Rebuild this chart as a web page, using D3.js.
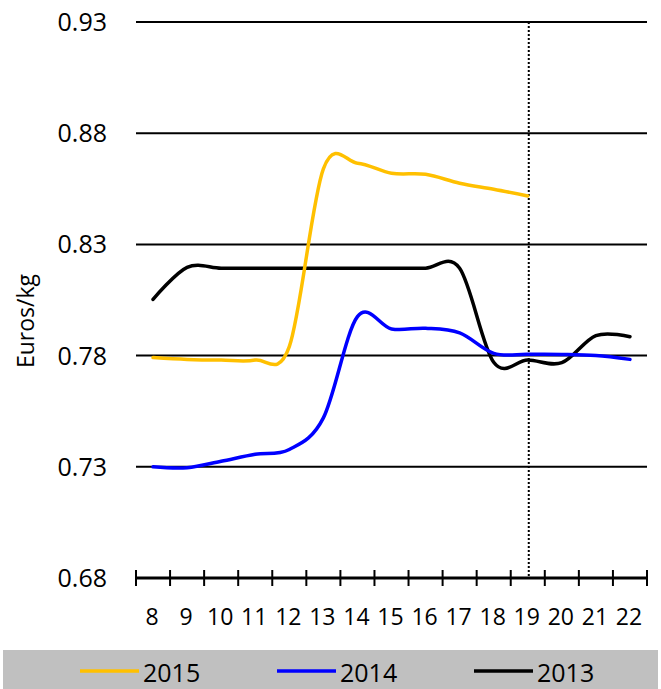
<!DOCTYPE html>
<html><head><meta charset="utf-8">
<script src="https://cdn.jsdelivr.net/npm/d3@7"></script>
<style>body{margin:0;background:#fff}svg{display:block}text{font-family:"Open Sans",sans-serif;fill:#000}</style>
</head><body><svg id="c" width="661" height="689"></svg>
<script>
const weeks = [8,9,10,11,12,13,14,15,16,17,18,19,20,21,22];
const yTicks = [0.68,0.73,0.78,0.83,0.88,0.93];
const s2015 = [0.7791,0.7783,0.778,0.778,0.784,0.864,0.8665,0.862,0.8615,0.8575,0.8548,0.8518,null,null,null];
const s2014 = [0.73,0.7296,0.7325,0.7356,0.7378,0.752,0.7975,0.792,0.7923,0.7902,0.781,0.7806,0.7805,0.780,0.7783];
const s2013 = [0.8053,0.8197,0.8193,0.8193,0.8193,0.8193,0.8193,0.8193,0.8193,0.8193,0.777,0.778,0.7768,0.789,0.7885];
const seriesNames = ["2015","2014","2013"];
const seriesColors = ["#FFC000","#0000FF","#000000"];
const markerWeek = 19;

const svg = d3.select("#c");
const x = d3.scaleBand().domain(weeks).range([136,647]).padding(0);
const y = d3.scaleLinear().domain([0.68,0.93]).range([578,22]);

// gridlines
svg.append("g").selectAll("line").data(yTicks.slice(1)).join("line")
  .attr("x1",136).attr("x2",647).attr("y1",d=>y(d)).attr("y2",d=>y(d))
  .attr("stroke","#000").attr("stroke-width",2);

// y labels
svg.append("g").selectAll("text").data(yTicks).join("text")
  .attr("x",107).attr("y",d=>y(d)).attr("dy","0.36em").attr("text-anchor","end")
  .attr("font-size",25).text(d=>d.toFixed(2));

// vertical dotted marker
svg.append("line").attr("x1",x(markerWeek)+x.bandwidth()/2+1).attr("x2",x(markerWeek)+x.bandwidth()/2+1)
  .attr("y1",y(0.93)).attr("y2",y(0.68)).attr("stroke","#000").attr("stroke-width",2).attr("stroke-dasharray","2,2");

// x axis
const xa = svg.append("g");
xa.append("line").attr("x1",136).attr("x2",647).attr("y1",y(0.68)).attr("y2",y(0.68)).attr("stroke","#000").attr("stroke-width",3);
const bounds = weeks.map(w=>x(w)).concat([647]);
xa.selectAll("line.t").data(bounds).join("line").attr("class","t")
  .attr("x1",d=>d).attr("x2",d=>d).attr("y1",570).attr("y2",586).attr("stroke","#000").attr("stroke-width",2);
xa.selectAll("text").data(weeks).join("text")
  .attr("x",d=>x(d)+x.bandwidth()/2-1).attr("y",625).attr("text-anchor","middle")
  .attr("font-size",23).text(d=>d);

// axis title
svg.append("text").attr("transform","translate(34,321) rotate(-90)")
  .attr("text-anchor","middle").attr("font-size",23).text("Euros/kg");

// lines
const line = d3.line().defined(d=>d.v!=null)
  .x(d=>x(d.w)+x.bandwidth()/2).y(d=>y(d.v)).curve(d3.curveCardinal.tension(0));
[s2013,s2014,s2015].forEach((s,i)=>{
  const idx = 2-i;
  svg.append("path").datum(weeks.map((w,j)=>({w:w,v:s[j]})).filter(d=>d.v!=null))
    .attr("d",line).attr("fill","none").attr("stroke",seriesColors[idx]).attr("stroke-width",3.5)
    .attr("stroke-linejoin","round").attr("stroke-linecap","round");
});

// legend
const lg = svg.append("g");
lg.append("rect").attr("x",3).attr("y",650).attr("width",655).attr("height",40).attr("fill","#C0C0C0");
const lx = [80,277,474];
seriesNames.forEach((n,i)=>{
  lg.append("line").attr("x1",lx[i]).attr("x2",lx[i]+59).attr("y1",671).attr("y2",671)
    .attr("stroke",seriesColors[i]).attr("stroke-width",3.5);
  lg.append("text").attr("x",lx[i]+63).attr("y",682).attr("font-size",25).text(n);
});
</script></body></html>
